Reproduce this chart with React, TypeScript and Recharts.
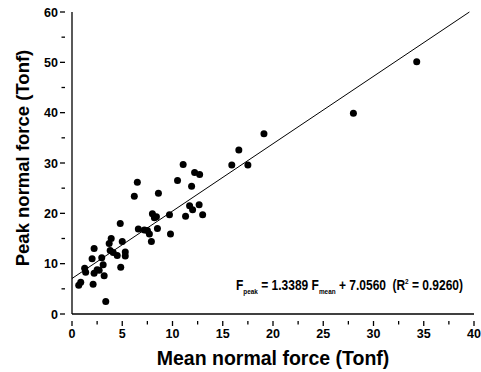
import React from 'react';
import { ScatterChart, Scatter, XAxis, YAxis, ReferenceLine } from 'recharts';

// mean normal force (Tonf)
const meanForce = [
  0.67, 0.87, 1.26, 1.36, 2.0, 2.1, 2.2, 2.2, 2.5, 2.7, 2.96, 3.1, 3.2, 3.36,
  3.7, 3.9, 3.8, 4.1, 4.5, 4.8, 4.85, 5.0, 5.3, 5.3, 6.2, 6.5, 6.6, 7.2, 7.5,
  7.7, 7.9, 8.0, 8.2, 8.4, 8.5, 8.6, 9.7, 9.8, 10.5, 11.06, 11.3, 11.9, 11.7,
  12.0, 12.2, 12.7, 12.65, 13.0, 15.9, 16.6, 17.5, 19.1, 28.0, 34.3,
];
// peak normal force (Tonf)
const peakForce = [
  5.7, 6.3, 9.1, 8.3, 11.0, 5.9, 13.0, 8.1, 8.8, 8.7, 11.2, 9.8, 7.6, 2.5,
  14.0, 15.0, 12.6, 12.2, 11.6, 18.0, 9.3, 14.4, 12.3, 11.5, 23.4, 26.2, 16.9,
  16.7, 16.6, 15.9, 14.4, 19.9, 19.1, 19.3, 17.0, 24.0, 19.7, 15.9, 26.5, 29.7,
  19.4, 25.4, 21.5, 20.7, 28.1, 27.7, 21.7, 19.7, 29.6, 32.6, 29.6, 35.8, 39.9,
  50.1,
];

const xTicks = [0, 2.5, 5, 7.5, 10, 12.5, 15, 17.5, 20, 22.5, 25, 27.5, 30, 32.5, 35, 37.5, 40];
const yTicks = [0, 5, 10, 15, 20, 25, 30, 35, 40, 45, 50, 55, 60];

// fit reported on the figure
const slope = 1.3389;
const intercept = 7.056;
const xMax = 40;
const yMax = 60;

const points = meanForce.map((x, i) => ({ x, y: peakForce[i] }));

const FONT = '"Liberation Sans", Arial, sans-serif';

const XTick = (props: any) => {
  const { x, y, payload } = props;
  const major = payload.value % 5 === 0;
  return (
    <g>
      <line x1={x} x2={x} y1={y - 1} y2={y + (major ? 4 : 2.5)} stroke="#000" strokeWidth={1.3} />
      {major && (
        <text x={x} y={y + 16} textAnchor="middle" fontFamily={FONT} fontWeight="bold" fontSize={12.5} fill="#000">
          {payload.value}
        </text>
      )}
    </g>
  );
};

const YTick = (props: any) => {
  const { x, y, payload } = props;
  const major = payload.value % 10 === 0;
  return (
    <g>
      <line x1={x + 1} x2={x - (major ? 4 : 2.5)} y1={y} y2={y} stroke="#000" strokeWidth={1.3} />
      {major && (
        <text x={x - 6} y={y + 4.5} textAnchor="end" fontFamily={FONT} fontWeight="bold" fontSize={12.5} fill="#000">
          {payload.value}
        </text>
      )}
    </g>
  );
};

const Dot = (props: any) => <circle cx={props.cx} cy={props.cy} r={3.5} fill="#000" />;

export default function App() {
  const xEnd = (yMax - intercept) / slope;
  return (
    <div style={{ position: 'absolute', left: 0, top: 0, background: '#fff' }}>
      <ScatterChart width={481} height={372} margin={{ top: 12, right: 7, bottom: 0, left: 0 }}>
        <XAxis
          type="number"
          dataKey="x"
          domain={[0, xMax]}
          ticks={xTicks}
          interval={0}
          tick={<XTick />}
          tickLine={false}
          height={58}
          stroke="#000"
          strokeWidth={1.3}
        />
        <YAxis
          type="number"
          dataKey="y"
          domain={[0, yMax]}
          ticks={yTicks}
          interval={0}
          tick={<YTick />}
          tickLine={false}
          width={72}
          stroke="#000"
          strokeWidth={1.3}
        />
        <XAxis xAxisId="top" orientation="top" type="number" dataKey="x" domain={[0, xMax]} height={0} tick={false} tickLine={false} stroke="#000" strokeWidth={1.3} />
        <YAxis yAxisId="right" orientation="right" type="number" dataKey="y" domain={[0, yMax]} width={0} tick={false} tickLine={false} stroke="#000" strokeWidth={1.3} />
        <ReferenceLine
          segment={[{ x: 0, y: intercept }, { x: xEnd, y: yMax }]}
          stroke="#000"
          strokeWidth={1}
          ifOverflow="visible"
        />
        <Scatter data={points} shape={<Dot />} isAnimationActive={false} />
        <text x={273} y={365} textAnchor="middle" fontFamily={FONT} fontWeight="bold" fontSize={19.5} fill="#000">
          Mean normal force (Tonf)
        </text>
        <text
          transform="translate(29,158) rotate(-90)"
          textAnchor="middle"
          fontFamily={FONT}
          fontWeight="bold"
          fontSize={18.5}
          fill="#000"
        >
          Peak normal force (Tonf)
        </text>
        <text transform="translate(236,290) scale(0.8,1)" fontFamily={FONT} fontWeight="bold" fontSize={15} fill="#000">
          F<tspan fontSize={8} dy={4}>peak</tspan>
          <tspan dy={-4}> = 1.3389 F</tspan>
          <tspan fontSize={8} dy={4}>mean</tspan>
          <tspan dy={-4}> + 7.0560</tspan>
          <tspan dx={8}>(R</tspan>
          <tspan fontSize={8} dy={-6}>2</tspan>
          <tspan dy={6}> = 0.9260)</tspan>
        </text>
      </ScatterChart>
    </div>
  );
}
